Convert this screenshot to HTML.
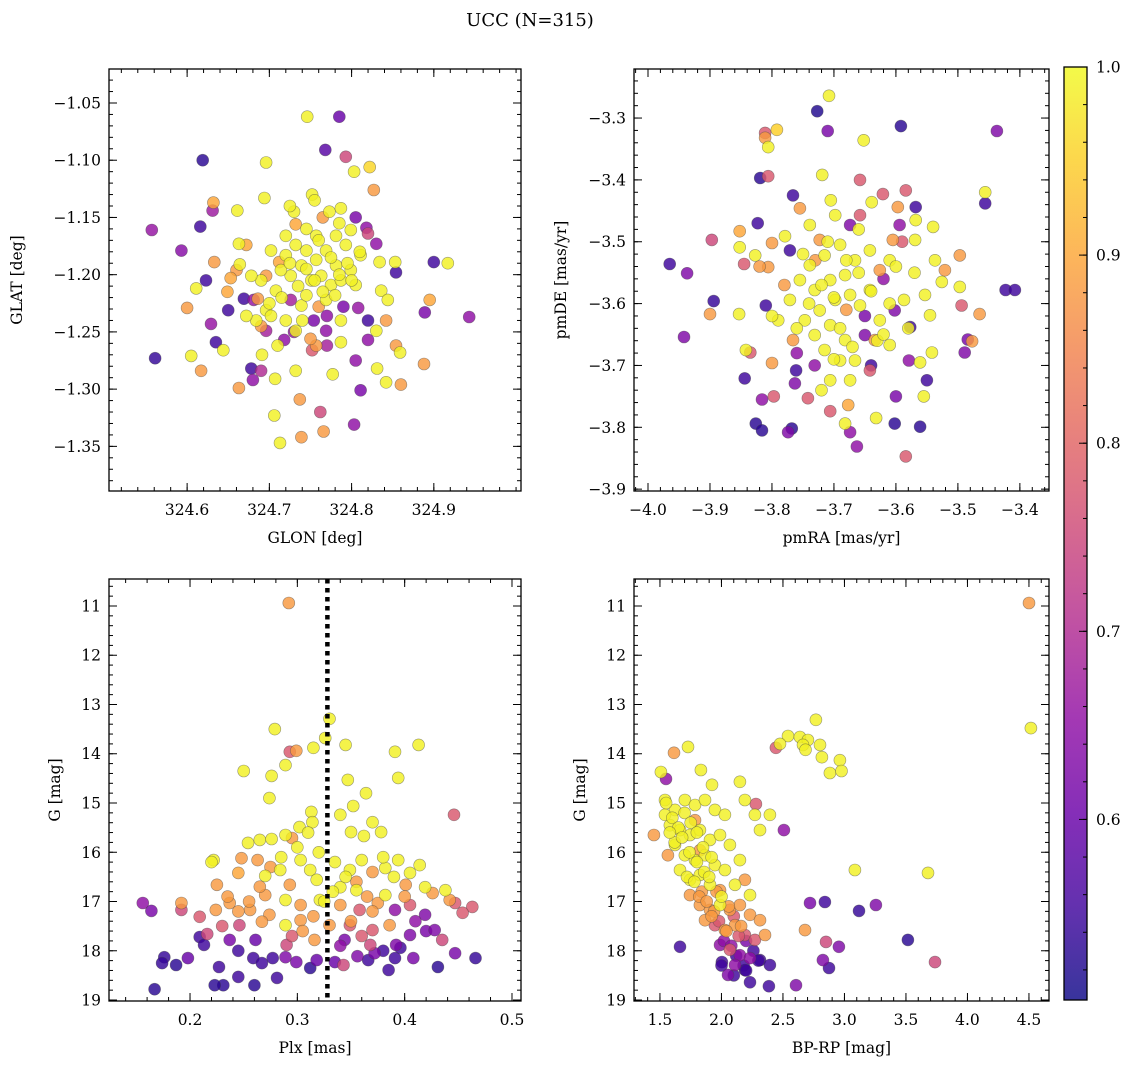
<!DOCTYPE html>
<html><head><meta charset="utf-8">
<style>
html,body{margin:0;padding:0;background:#fff;}
svg{display:block;font-family:"DejaVu Serif","Liberation Serif",serif;}
</style></head>
<body>
<svg id="fig" width="1136" height="1068" viewBox="0 0 1136 1068" xmlns="http://www.w3.org/2000/svg">
<text x="530" y="26" font-size="18" text-anchor="middle">UCC (N=315)</text>
</svg>
<script>
// ---- Panel 1: GLON / GLAT ----
const glonVals=[324.746,324.785,324.768,324.793,324.803,324.822,324.619,324.696,324.557,324.593,324.561,324.616,324.632,324.631,324.661,324.694,324.730,324.732,324.752,324.773,324.787,324.827,324.818,324.663,324.664,324.623,324.611,324.649,324.633,324.653,324.600,324.605,324.635,324.650,324.617,324.629,324.644,324.663,324.680,324.678,324.691,324.690,324.707,324.718,324.706,324.713,324.739,324.737,324.766,324.762,324.803,324.777,324.811,324.831,324.842,324.860,324.859,324.888,324.889,324.895,324.900,324.917,324.943,324.854,324.853,324.834,324.830,324.820,324.836,324.844,324.842,324.830,324.854,324.820,324.808,324.787,324.769,324.754,324.739,324.726,324.708,324.696,324.681,324.669,324.696,324.732,324.757,324.787,324.805,324.732,324.752,324.745,324.757,324.769,324.781,324.793,324.763,324.775,324.787,324.751,324.739,324.720,324.726,324.799,324.811,324.805,324.714,324.702,324.690,324.678,324.720,324.757,324.781,324.732,324.799,324.769,324.745,324.702,324.720,324.684,324.672,324.696,324.712,324.660,324.686,324.672,
324.745,324.755,324.765,324.775,324.785,324.795,324.735,324.725,324.715,324.760,324.770,324.780,324.790,324.800,324.740,324.730,324.750,324.760,324.810,324.820,324.700,324.690,324.710,324.770,324.745,324.785,324.765,324.805,324.725,324.755];
const glatVals=[-1.062,-1.062,-1.091,-1.097,-1.110,-1.106,-1.100,-1.102,-1.161,-1.179,-1.273,-1.158,-1.137,-1.144,-1.144,-1.133,-1.145,-1.156,-1.130,-1.145,-1.142,-1.126,-1.159,-1.173,-1.191,-1.205,-1.212,-1.215,-1.189,-1.203,-1.229,-1.271,-1.259,-1.231,-1.284,-1.243,-1.266,-1.299,-1.292,-1.282,-1.270,-1.284,-1.291,-1.257,-1.323,-1.347,-1.342,-1.309,-1.337,-1.320,-1.331,-1.287,-1.301,-1.282,-1.294,-1.296,-1.268,-1.278,-1.233,-1.222,-1.189,-1.190,-1.237,-1.198,-1.189,-1.189,-1.173,-1.164,-1.214,-1.222,-1.240,-1.249,-1.262,-1.257,-1.229,-1.240,-1.249,-1.240,-1.227,-1.222,-1.214,-1.231,-1.222,-1.221,-1.249,-1.249,-1.262,-1.259,-1.275,-1.284,-1.266,-1.179,-1.187,-1.179,-1.192,-1.174,-1.201,-1.209,-1.205,-1.205,-1.192,-1.183,-1.201,-1.196,-1.183,-1.209,-1.196,-1.179,-1.205,-1.201,-1.166,-1.166,-1.166,-1.174,-1.161,-1.222,-1.218,-1.236,-1.240,-1.240,-1.236,-1.201,-1.189,-1.196,-1.221,-1.174,
-1.195,-1.205,-1.215,-1.185,-1.200,-1.190,-1.210,-1.190,-1.220,-1.228,-1.236,-1.218,-1.228,-1.205,-1.240,-1.250,-1.256,-1.170,-1.180,-1.240,-1.225,-1.245,-1.262,-1.262,-1.160,-1.155,-1.150,-1.150,-1.140,-1.135];
const prob1=[.99,.60,.58,.75,.99,.96,.53,.99,.66,.64,.54,.55,.90,.67,.99,.99,.99,.90,.99,.99,.99,.88,.65,.99,.99,.55,.99,.90,.88,.90,.88,.99,.55,.55,.88,.66,.99,.88,.65,.55,.99,.70,.99,.65,.99,.99,.88,.88,.88,.75,.65,.99,.62,.99,.99,.88,.99,.88,.62,.90,.55,.99,.65,.55,.99,.99,.65,.75,.99,.99,.88,.99,.88,.65,.66,.99,.65,.62,.99,.68,.99,.99,.66,.55,.68,.99,.88,.99,.65,.99,.78,.99,.99,.99,.99,.99,.99,.99,.99,.99,.99,.99,.99,.99,.99,.99,.99,.99,.99,.99,.99,.99,.99,.99,.99,.99,.99,.99,.99,.99,.99,.88,.90,.88,.88,.90,
.99,.99,.99,.99,.99,.99,.99,.99,.99,.88,.65,.99,.62,.99,.99,.66,.88,.99,.99,.55,.99,.88,.99,.68,.99,.99,.88,.62,.99,.99];
const xTicks1=[324.6,324.7,324.8,324.9];
const yTicks1=[-1.05,-1.10,-1.15,-1.20,-1.25,-1.30,-1.35];

// ---- Panel 2: pmRA / pmDE ----
const pmraVals=[-3.708,-3.727,-3.592,-3.437,-3.811,-3.792,-3.710,-3.806,-3.811,-3.652,-3.819,-3.806,-3.719,-3.658,-3.621,-3.584,-3.766,-3.705,-3.639,-3.597,-3.568,-3.456,-3.456,-3.755,-3.568,-3.823,-3.779,-3.800,-3.852,-3.897,-3.852,-3.845,-3.965,-3.937,-3.806,-3.810,-3.894,-3.853,-3.900,-3.942,-3.842,-3.835,-3.844,-3.800,-3.797,-3.816,-3.826,-3.816,-3.768,-3.774,-3.742,-3.763,-3.761,-3.706,-3.682,-3.677,-3.674,-3.663,-3.584,-3.632,-3.600,-3.555,-3.579,-3.561,-3.602,-3.561,-3.542,-3.550,-3.489,-3.484,-3.477,-3.465,-3.494,-3.423,-3.408,-3.497,-3.521,-3.497,-3.540,-3.569,-3.605,-3.594,-3.537,-3.526,-3.553,-3.545,-3.577,-3.602,-3.626,-3.634,-3.650,-3.658,-3.642,-3.626,-3.610,-3.642,-3.666,-3.690,-3.715,-3.723,-3.739,-3.755,-3.731,-3.706,-3.682,-3.674,-3.698,-3.723,-3.747,-3.771,-3.790,-3.766,-3.731,-3.706,-3.682,-3.690,-3.715,-3.666,-3.642,-3.706,-3.674,-3.731,-3.610,-3.587,-3.739,-3.698,-3.674,-3.771,-3.827,-3.658,
-3.72,-3.70,-3.68,-3.66,-3.64,-3.62,-3.60,-3.74,-3.76,-3.78,-3.69,-3.67,-3.65,-3.63,-3.71,-3.73,-3.75,-3.61,-3.59,-3.57,-3.80,-3.82,-3.66,-3.70,-3.64,-3.68,-3.62,-3.76,-3.72,-3.58];
const pmdeVals=[-3.264,-3.289,-3.313,-3.321,-3.324,-3.319,-3.321,-3.347,-3.332,-3.336,-3.397,-3.394,-3.392,-3.400,-3.423,-3.417,-3.425,-3.433,-3.436,-3.444,-3.444,-3.420,-3.438,-3.446,-3.465,-3.470,-3.491,-3.502,-3.483,-3.497,-3.509,-3.536,-3.536,-3.551,-3.541,-3.603,-3.596,-3.617,-3.617,-3.654,-3.675,-3.679,-3.721,-3.696,-3.750,-3.755,-3.794,-3.805,-3.802,-3.808,-3.753,-3.729,-3.708,-3.774,-3.794,-3.764,-3.808,-3.831,-3.847,-3.785,-3.750,-3.750,-3.692,-3.695,-3.794,-3.799,-3.679,-3.724,-3.679,-3.658,-3.661,-3.617,-3.603,-3.578,-3.578,-3.573,-3.546,-3.522,-3.476,-3.497,-3.497,-3.473,-3.530,-3.565,-3.586,-3.619,-3.638,-3.611,-3.627,-3.659,-3.651,-3.603,-3.578,-3.546,-3.530,-3.514,-3.530,-3.505,-3.522,-3.497,-3.538,-3.562,-3.578,-3.562,-3.554,-3.586,-3.594,-3.611,-3.627,-3.594,-3.627,-3.659,-3.651,-3.635,-3.659,-3.692,-3.675,-3.692,-3.708,-3.724,-3.724,-3.700,-3.667,-3.594,-3.473,-3.457,-3.473,-3.514,-3.522,-3.457,
-3.57,-3.59,-3.61,-3.55,-3.58,-3.56,-3.54,-3.60,-3.64,-3.57,-3.64,-3.67,-3.62,-3.66,-3.50,-3.53,-3.52,-3.60,-3.50,-3.55,-3.62,-3.54,-3.48,-3.69,-3.70,-3.53,-3.65,-3.68,-3.74,-3.64];
const prob2=[.99,.52,.53,.63,.78,.95,.62,.99,.88,.99,.53,.78,.99,.78,.78,.78,.55,.99,.99,.88,.55,.99,.55,.88,.99,.55,.99,.88,.90,.75,.99,.78,.55,.63,.88,.55,.54,.99,.88,.63,.99,.78,.55,.88,.78,.65,.53,.53,.53,.63,.78,.63,.55,.78,.99,.90,.65,.65,.78,.99,.62,.99,.65,.99,.53,.53,.99,.55,.63,.62,.88,.88,.78,.55,.55,.99,.88,.88,.99,.99,.88,.65,.99,.99,.99,.99,.55,.63,.99,.88,.63,.99,.99,.88,.99,.99,.99,.99,.99,.88,.99,.99,.99,.99,.99,.99,.99,.99,.99,.99,.99,.88,.99,.99,.99,.99,.99,.99,.78,.99,.99,.65,.99,.99,.99,.99,.63,.55,.99,.78,
.99,.99,.88,.99,.99,.65,.99,.99,.99,.88,.99,.99,.62,.99,.99,.88,.99,.99,.78,.99,.99,.88,.99,.99,.55,.99,.99,.65,.99,.99];
const xTicks2=[-4.0,-3.9,-3.8,-3.7,-3.6,-3.5,-3.4];
const yTicks2=[-3.3,-3.4,-3.5,-3.6,-3.7,-3.8,-3.9];

// ---- Panel 3: Plx / G ----
const plxVals=[.292,.279,.330,.326,.345,.413,.391,.315,.289,.293,.299,.276,.250,.274,.394,.347,.364,.352,.313,.340,.314,.302,.370,.362,.378,.350,.254,.265,.276,.289,.295,.446,.222,.248,.263,.245,.225,.270,.284,.303,.312,.349,.360,.370,.382,.394,.405,.414,.401,.419,.426,.438,.447,.463,.454,.442,.192,.192,.156,.164,.209,.216,.224,.237,.256,.274,.270,.289,.303,.321,.340,.358,.375,.391,.405,.419,.428,.435,.246,.267,.289,.303,.330,.349,.370,.386,.405,.237,.261,.290,.316,.344,.368,.392,.209,.213,.176,.174,.187,.198,.227,.231,.245,.245,.259,.267,.277,.281,.289,.299,.312,.318,.335,.343,.356,.366,.385,.391,.396,.408,.431,.447,.466,.167,.223,.260,.372,.340,.318,.293,.355,.382,
.300,.310,.320,.335,.345,.355,.365,.285,.275,.265,.380,.390,.400,.255,.245,.235,.325,.333,.315,.305,.295,.350,.360,.370,.410,.420,.230,.220,.340,.380];
const gVals3=[10.94,13.50,13.29,13.68,13.82,13.82,13.96,13.88,14.23,13.96,13.94,14.45,14.35,14.90,14.49,14.53,14.80,15.06,15.18,15.24,15.39,15.49,15.39,15.67,15.59,15.59,15.81,15.75,15.73,15.65,15.71,15.24,16.16,16.12,16.16,16.42,16.66,16.48,16.36,16.16,16.36,16.36,16.16,16.40,16.32,16.16,16.42,16.26,16.66,16.71,16.83,16.77,17.03,17.11,17.23,16.97,17.03,17.17,17.03,17.19,17.31,17.66,17.17,17.03,17.17,17.27,16.87,16.97,17.07,16.97,17.07,17.17,17.03,17.17,17.07,17.27,17.58,17.78,17.48,17.41,17.48,17.38,17.48,17.48,17.58,17.48,17.68,17.78,17.78,17.88,17.78,17.78,17.88,17.88,17.72,17.88,18.13,18.25,18.29,18.15,18.33,18.70,18.53,18.00,18.15,18.25,18.15,18.55,18.13,18.23,18.35,18.19,18.23,18.29,18.11,18.19,18.39,18.15,17.94,18.15,18.33,18.05,18.15,18.78,18.70,18.70,18.05,16.71,16.56,16.66,16.77,16.87,
15.9,15.6,16.0,16.2,16.5,16.6,16.9,16.1,16.3,16.7,16.1,16.5,16.9,17.0,17.2,16.9,17.0,16.8,17.3,17.6,17.7,17.4,17.7,17.2,17.4,17.6,17.5,16.2,17.9,18.0];
const prob3=[.88,.99,.99,.99,.99,.99,.99,.99,.99,.78,.88,.99,.99,.99,.99,.99,.99,.99,.99,.99,.99,.99,.99,.99,.99,.99,.99,.99,.99,.99,.88,.78,.99,.88,.88,.90,.88,.99,.99,.99,.99,.99,.99,.88,.99,.99,.99,.99,.88,.99,.88,.99,.78,.78,.78,.88,.88,.75,.65,.62,.78,.75,.88,.88,.88,.88,.88,.99,.88,.99,.88,.78,.88,.65,.78,.63,.63,.75,.75,.88,.99,.88,.88,.78,.78,.88,.63,.62,.60,.75,.88,.62,.75,.63,.55,.55,.54,.54,.53,.60,.55,.53,.55,.55,.55,.55,.55,.55,.63,.62,.53,.60,.60,.75,.63,.55,.55,.55,.55,.62,.53,.62,.54,.53,.53,.53,.62,.99,.99,.88,.99,.99,
.99,.99,.99,.99,.99,.88,.88,.99,.88,.88,.99,.99,.88,.88,.88,.88,.99,.99,.88,.88,.78,.88,.78,.88,.65,.62,.78,.99,.65,.55];
const xTicks3=[0.2,0.3,0.4,0.5];
const yTicks3=[11,12,13,14,15,16,17,18,19];
const plxLine=[0.328];

// ---- Panel 4: BP-RP / G ----
const bprpVals=[4.500,4.516,2.768,2.541,2.638,2.703,2.476,2.663,2.801,2.817,2.683,2.963,2.882,2.976,2.443,1.614,1.549,1.508,1.728,1.833,1.923,2.150,2.280,2.394,2.272,2.191,2.508,1.451,1.565,3.085,3.118,3.256,2.841,2.720,2.679,2.850,2.825,2.874,2.955,3.516,3.736,3.679,1.663,2.606,2.386,2.232,2.053,1.541,1.622,1.703,1.785,1.866,1.947,2.028,1.581,1.663,1.744,1.825,1.907,1.988,2.069,1.622,1.703,1.785,1.866,1.947,2.028,1.663,1.744,1.825,1.907,1.988,2.110,2.191,1.744,1.825,1.907,1.988,2.069,2.150,2.232,2.313,1.866,1.947,2.028,2.110,2.191,2.272,2.354,1.988,2.069,2.150,2.232,2.313,2.004,2.110,2.191,2.394,1.785,2.313,2.150,2.232,1.541,1.825,
1.60,1.65,1.70,1.75,1.80,1.85,1.62,1.68,1.74,1.80,1.86,1.92,1.72,1.78,1.84,1.90,1.96,1.82,1.88,1.94,2.00,2.06,1.92,1.98,2.04,2.10,2.16,2.02,2.08,2.14,2.20,2.26,2.12,2.18,1.55,1.58,2.00,2.10,2.20,2.30];
const gVals4=[10.94,13.48,13.31,13.64,13.66,13.72,13.80,13.82,13.82,14.07,13.92,14.13,14.39,14.35,13.88,13.98,14.51,14.37,13.86,14.33,14.63,14.57,15.02,15.24,15.24,14.94,15.55,15.65,16.06,16.36,17.19,17.07,17.01,17.03,17.58,17.82,18.19,18.35,17.92,17.78,18.23,16.42,17.92,18.70,18.72,18.64,18.49,14.94,15.14,14.94,15.04,14.94,15.14,15.24,15.45,15.55,15.65,15.55,15.75,15.65,15.85,15.85,16.06,16.16,16.06,16.26,16.36,16.36,16.56,16.46,16.66,16.77,16.66,16.56,16.87,17.07,17.17,17.07,17.17,17.07,17.27,17.38,17.38,17.48,17.58,17.48,17.68,17.78,17.68,17.88,17.98,18.09,18.15,18.19,18.23,18.29,18.39,18.29,15.35,15.55,16.16,16.87,15.24,15.96,
15.3,15.5,15.2,15.4,15.6,15.9,15.8,15.7,16.0,16.2,16.4,16.1,16.5,16.6,16.8,16.5,16.8,16.9,17.0,17.2,16.9,17.1,17.3,17.4,17.6,17.3,17.5,17.8,17.9,17.7,17.8,18.0,18.1,18.3,15.0,15.6,18.3,18.5,18.4,18.2];
const prob4=[.88,.99,.99,.99,.99,.99,.99,.99,.99,.99,.99,.99,.99,.99,.78,.88,.65,.99,.99,.99,.99,.99,.78,.99,.99,.99,.65,.88,.88,.99,.54,.63,.55,.62,.88,.75,.63,.55,.63,.53,.75,.99,.55,.63,.55,.55,.63,.99,.99,.99,.99,.99,.99,.99,.99,.99,.99,.99,.99,.99,.99,.99,.99,.99,.99,.99,.99,.99,.99,.99,.99,.88,.99,.88,.88,.88,.88,.99,.88,.88,.88,.88,.88,.78,.88,.88,.78,.78,.88,.65,.78,.65,.65,.55,.55,.65,.55,.55,.88,.99,.99,.99,.99,.88,
.99,.99,.99,.99,.99,.99,.99,.99,.99,.99,.99,.99,.99,.99,.88,.99,.88,.88,.88,.88,.99,.88,.88,.78,.88,.78,.88,.65,.65,.78,.62,.55,.55,.55,.99,.99,.55,.55,.55,.55];
const xTicks4=[1.5,2.0,2.5,3.0,3.5,4.0,4.5];
const yTicks4=[11,12,13,14,15,16,17,18,19];

// ---- Colorbar ----
const cbTicks=[0.6,0.7,0.8,0.9,1.0];
const cbMin=0.504, cbMax=1.0;

const NS='http://www.w3.org/2000/svg';
const svg=document.getElementById('fig');
function mk(tag,attrs,parent){const e=document.createElementNS(NS,tag);for(const k in attrs)e.setAttribute(k,attrs[k]);(parent||svg).appendChild(e);return e;}
const stops=[[13,8,135],[65,4,157],[106,0,168],[143,13,164],[177,42,144],[204,71,120],[225,100,98],[242,132,75],[252,166,54],[252,206,37],[240,249,33]];
function plasma(t){t=Math.max(0,Math.min(1,t));const s=t*10,i=Math.min(9,Math.floor(s)),f=s-i;const a=stops[i],b=stops[i+1];return `rgb(${Math.round(a[0]+(b[0]-a[0])*f)},${Math.round(a[1]+(b[1]-a[1])*f)},${Math.round(a[2]+(b[2]-a[2])*f)})`;}
function col(p){return plasma((p-cbMin)/(cbMax-cbMin));}
function fmt(v,d){const s=Math.abs(v).toFixed(d);return (v<0?'\u2212':'')+s;}

function panel(o){
  const {name,x0,x1,y0,y1,xd,yd,xs,ys,ps,xt,yt,xdec,ydec,xminor,yminor,xlabel,ylabel,invY}=o;
  const g=mk('g',{});
  
  
  const X=v=>x0+(v-xd[0])/(xd[1]-xd[0])*(x1-x0);
  const Y=v=>invY? y0+(v-yd[0])/(yd[1]-yd[0])*(y1-y0) : y1-(v-yd[0])/(yd[1]-yd[0])*(y1-y0);
  const clip='clip-'+name;
  const cp=mk('clipPath',{id:clip},g);mk('rect',{x:x0,y:y0,width:x1-x0,height:y1-y0},cp);
  const pg=mk('g',{'clip-path':`url(#${clip})`},g);
  const idx=xs.map((_,i)=>i).sort((a,b)=>ps[a]-ps[b]);
  idx.forEach(i=>{
    const c=mk('circle',{cx:X(xs[i]).toFixed(1),cy:Y(ys[i]).toFixed(1),r:6.0,fill:col(ps[i]),'fill-opacity':0.82,stroke:'rgba(70,70,70,0.55)','stroke-width':0.6},pg);
    
    
  });
  if(o.vline){o.vline.forEach(v=>{const l=mk('line',{x1:X(v),x2:X(v),y1:y0,y2:y1,stroke:'#000','stroke-width':4.5,'stroke-dasharray':'4.5,4.5'},g);
    
    });}
  const tk=mk('g',{stroke:'#000','stroke-width':1},g);
  const lo=Math.min(xd[0],xd[1]),hi=Math.max(xd[0],xd[1]);
  for(let v=Math.ceil(lo/xminor-1e-6)*xminor;v<=hi+1e-9;v+=xminor){const px=X(v);mk('line',{x1:px,x2:px,y1:y1,y2:y1-4},tk);mk('line',{x1:px,x2:px,y1:y0,y2:y0+4},tk);}
  const ylo=Math.min(yd[0],yd[1]),yhi=Math.max(yd[0],yd[1]);
  for(let v=Math.ceil(ylo/yminor-1e-6)*yminor;v<=yhi+1e-9;v+=yminor){const py=Y(v);mk('line',{x1:x0,x2:x0+4,y1:py,y2:py},tk);mk('line',{x1:x1,x2:x1-4,y1:py,y2:py},tk);}
  xt.forEach(v=>{const px=X(v);mk('line',{x1:px,x2:px,y1:y1,y2:y1-8},tk);mk('line',{x1:px,x2:px,y1:y0,y2:y0+8},tk);
    const t=mk('text',{x:px,y:y1+24,'font-size':15.5,'text-anchor':'middle'},g);t.textContent=fmt(v,xdec);
    
    });
  yt.forEach(v=>{const py=Y(v);mk('line',{x1:x0,x2:x0+8,y1:py,y2:py},tk);mk('line',{x1:x1,x2:x1-8,y1:py,y2:py},tk);
    const t=mk('text',{x:x0-8,y:py+5.5,'font-size':15.5,'text-anchor':'end'},g);t.textContent=fmt(v,ydec);
    
    });
  mk('rect',{x:x0,y:y0,width:x1-x0,height:y1-y0,fill:'none',stroke:'#000','stroke-width':1.3},g);
  const xl=mk('text',{x:(x0+x1)/2,y:y1+52,'font-size':15.5,'text-anchor':'middle'},g);xl.textContent=xlabel;
  
  
  const yx=o.ylx, yy=(y0+y1)/2;
  const yl=mk('text',{x:yx,y:yy,'font-size':15.5,'text-anchor':'middle',transform:`rotate(-90 ${yx} ${yy})`},g);yl.textContent=ylabel;
  
  
}

panel({name:'glon-glat-panel',x0:109,x1:521,y0:69,y1:491,xd:[324.505,325.006],yd:[-1.389,-1.0203],xs:glonVals,ys:glatVals,ps:prob1,xt:xTicks1,yt:yTicks1,xdec:1,ydec:2,xminor:0.02,yminor:0.01,xlabel:'GLON [deg]',ylabel:'GLAT [deg]',ylx:22});
panel({name:'pm-panel',x0:634,x1:1049,y0:69,y1:491,xd:[-4.0226,-3.353],yd:[-3.903,-3.2207],xs:pmraVals,ys:pmdeVals,ps:prob2,xt:xTicks2,yt:yTicks2,xdec:1,ydec:1,xminor:0.02,yminor:0.02,xlabel:'pmRA [mas/yr]',ylabel:'pmDE [mas/yr]',ylx:566});
panel({name:'plx-g-panel',x0:109,x1:521,y0:579,y1:1001,xd:[0.1245,0.5084],yd:[10.452,19.02],xs:plxVals,ys:gVals3,ps:prob3,xt:xTicks3,yt:yTicks3,xdec:1,ydec:0,xminor:0.02,yminor:0.2,xlabel:'Plx [mas]',ylabel:'G [mag]',ylx:60,invY:true,vline:plxLine});
panel({name:'cmd-panel',x0:634,x1:1049,y0:579,y1:1001,xd:[1.289,4.663],yd:[10.452,19.02],xs:bprpVals,ys:gVals4,ps:prob4,xt:xTicks4,yt:yTicks4,xdec:1,ydec:0,xminor:0.1,yminor:0.2,xlabel:'BP-RP [mag]',ylabel:'G [mag]',ylx:585,invY:true});

(function(){
  const cx0=1064,cx1=1087,cy0=67,cy1=1000;
  const g=mk('g',{});
  
  
  const defs=mk('defs',{},g);
  const lg=mk('linearGradient',{id:'cbg',x1:0,y1:1,x2:0,y2:0},defs);
  for(let i=0;i<=20;i++){mk('stop',{offset:i/20,'stop-color':plasma(i/20),'stop-opacity':0.82},lg);}
  mk('rect',{x:cx0,y:cy0,width:cx1-cx0,height:cy1-cy0,fill:'url(#cbg)'},g);
  const Y=v=>cy1-(v-cbMin)/(cbMax-cbMin)*(cy1-cy0);
  for(let v=0.52;v<=1.0001;v+=0.02){mk('line',{x1:cx1,x2:cx1-4,y1:Y(v),y2:Y(v),stroke:'#000'},g);}
  cbTicks.forEach(v=>{mk('line',{x1:cx1,x2:cx1-8,y1:Y(v),y2:Y(v),stroke:'#000'},g);
    const t=mk('text',{x:cx1+9,y:Y(v)+5.5,'font-size':15.5},g);t.textContent=v.toFixed(1);
    
    });
  mk('rect',{x:cx0,y:cy0,width:cx1-cx0,height:cy1-cy0,fill:'none',stroke:'#000','stroke-width':1.3},g);
})();
</script>
</body></html>
